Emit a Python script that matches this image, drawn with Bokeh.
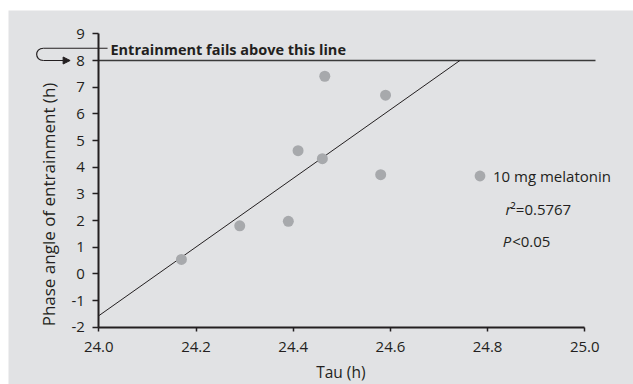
from bokeh.plotting import figure
from bokeh.models import (Range1d, FixedTicker, Label, Arrow, NormalHead, Legend,
                          LegendItem, NumeralTickFormatter)
from bokeh.embed import file_html
from bokeh.resources import INLINE
import math

# ---- data ----
tau = [24.17, 24.29, 24.39, 24.41, 24.46, 24.465, 24.58, 24.59]
phase = [0.54, 1.80, 1.97, 4.62, 4.32, 7.41, 3.72, 6.70]
fit_tau = [24.0, 24.743]
fit_phase = [-1.57, 8.0]
threshold = 8.0
threshold_tau = [24.0, 25.022]
x_ticks = [24.0, 24.2, 24.4, 24.6, 24.8, 25.0]
y_ticks = [-2, -1, 0, 1, 2, 3, 4, 5, 6, 7, 8, 9]
y_tick_labels = {t: str(t) for t in y_ticks}
series_name = "10 mg melatonin"
r2_text = "²=0.5767"
p_text = "<0.05"

BG = "#e1e2e4"
DOT = "#a7a9ac"
TXT = "#231f20"
FONT = "Open Sans"

p = figure(width=633, height=384, output_backend="svg", toolbar_location=None,
           x_range=Range1d(23.8142, 25.1002), y_range=Range1d(-4.149, 9.875),
           min_border=0, min_border_left=8, min_border_top=10,
           background_fill_color=BG, border_fill_color="white",
           outline_line_color=None)
p.grid.visible = False

# axes drawn at data positions
p.xaxis.fixed_location = -2
p.yaxis.fixed_location = 24.0
p.xaxis.bounds = (24.0, 25.0)
p.yaxis.bounds = (-2, 9)
p.xaxis.ticker = FixedTicker(ticks=x_ticks)
p.yaxis.ticker = FixedTicker(ticks=y_ticks)
p.xaxis.formatter = NumeralTickFormatter(format="0.0")
p.yaxis.major_label_overrides = y_tick_labels
for ax in (p.xaxis, p.yaxis):
    ax.axis_line_color = TXT
    ax.axis_line_width = 2
    ax.major_tick_line_color = TXT
    ax.major_tick_line_width = 1.5
    ax.major_tick_in = 0
    ax.minor_tick_line_color = None
    ax.major_label_text_font = FONT
    ax.major_label_text_font_size = "15px"
    ax.major_label_text_color = TXT
p.xaxis.major_tick_out = 4
p.yaxis.major_tick_out = 6
p.xaxis.major_label_standoff = 11
p.yaxis.major_label_standoff = 8

# threshold and fit lines
p.line(threshold_tau, [threshold, threshold], line_color="#3a3a3a", line_width=1.5)
p.line(fit_tau, fit_phase, line_color=TXT, line_width=1)

pts = p.scatter(tau, phase, size=11, fill_color=DOT, line_color=None)

# arrow pointing at threshold tick
p.line([23.886, 24.018], [8.46, 8.46], line_color=TXT, line_width=1.2)
p.bezier(x0=[23.886], y0=[8.46], x1=[23.886], y1=[8.0], cx0=[23.8675], cy0=[8.46],
         cx1=[23.8675], cy1=[8.0], line_color=TXT, line_width=1.2)
p.add_layout(Arrow(end=NormalHead(size=7, fill_color=TXT, line_color=TXT),
                   x_start=23.886, y_start=8.0, x_end=23.941, y_end=8.0,
                   line_color=TXT, line_width=1.2))

p.add_layout(Label(x=24.024, y=8.40, text="Entrainment fails above this line",
                   text_font=FONT, text_font_size="14.5px", text_font_style="bold",
                   text_color=TXT, text_baseline="alphabetic"))

# legend
legend = Legend(items=[LegendItem(label=series_name, renderers=[pts])],
                location=(458, 195), background_fill_alpha=0, border_line_color=None,
                padding=0, margin=0, glyph_width=27, glyph_height=27, label_standoff=0,
                label_text_font=FONT, label_text_font_size="15px", label_text_color=TXT)
p.add_layout(legend)

# stats
p.add_layout(Label(x=24.837, y=2.44, text="r", text_font=FONT, text_font_size="15px",
                   text_font_style="italic", text_color=TXT, text_baseline="alphabetic"))
p.add_layout(Label(x=24.837, y=2.44, x_offset=5, text=r2_text, text_font=FONT,
                   text_font_size="15px", text_color=TXT, text_baseline="alphabetic"))
p.add_layout(Label(x=24.831, y=1.25, text="P", text_font=FONT, text_font_size="15px",
                   text_font_style="italic", text_color=TXT, text_baseline="alphabetic"))
p.add_layout(Label(x=24.831, y=1.25, x_offset=9.5, text=p_text, text_font=FONT,
                   text_font_size="15px", text_color=TXT, text_baseline="alphabetic"))

# axis titles
p.add_layout(Label(x=24.498, y=-3.68, text="Tau (h)", text_font=FONT,
                   text_font_size="15.5px", text_color=TXT, text_align="center",
                   text_baseline="alphabetic"))
p.add_layout(Label(x=23.8975, y=2.60, text="Phase angle of entrainment (h)",
                   angle=math.pi / 2, text_font=FONT, text_font_size="17px",
                   text_color=TXT, text_align="center", text_baseline="middle"))

open("out.html", "w").write(file_html(p, INLINE))
